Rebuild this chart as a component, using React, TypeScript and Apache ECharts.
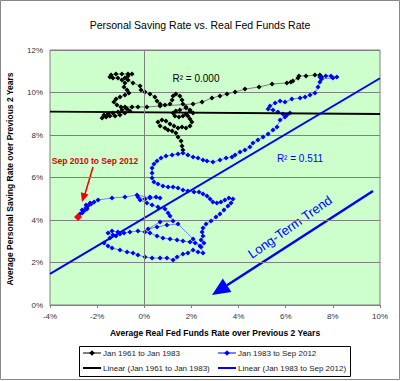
import React, { useEffect, useRef } from "react";
import * as echarts from "echarts";

const FONT = "'Liberation Sans', Arial, Helvetica, sans-serif";

const chartTitle = "Personal Saving Rate vs. Real Fed Funds Rate";
const xTitle = "Average Real Fed Funds Rate over Previous 2 Years";
const yTitle = "Average Personal Saving Rate over Previous 2 Years";
const names = [
  "Jan 1961 to Jan 1983",
  "Jan 1983 to Sep 2012",
  "Linear (Jan 1961 to Jan 1983)",
  "Linear (Jan 1983 to Sep 2012)",
];

// [real fed funds %, personal saving %]
const series1961: number[][] = [
  [1.64, 7.29], [1.6, 7.48], [1.56, 7.72], [1.43, 7.91], [1.34, 8.09], [1.18, 8.19], [1.01, 8.24],
  [0.88, 8.33], [0.67, 8.42], [0.58, 8.61], [0.75, 8.71], [0.92, 8.66], [1.09, 8.52], [1.26, 8.42],
  [1.43, 8.33], [1.6, 8.38], [1.77, 8.33], [1.94, 8.42], [2.02, 8.61], [1.94, 8.75], [1.85, 8.89],
  [1.77, 8.99], [1.64, 8.89], [1.47, 8.85], [1.3, 8.89], [1.22, 9.04], [1.34, 9.13], [1.51, 9.18],
  [1.77, 9.27], [1.94, 9.13], [2.07, 9.04], [1.94, 9.18], [1.77, 9.32], [1.64, 9.46], [1.6, 9.65],
  [1.51, 9.84], [1.34, 9.93], [1.22, 9.84], [1.18, 9.65], [1.09, 9.46], [0.88, 9.41], [0.67, 9.46],
  [0.54, 9.6], [0.45, 9.79], [0.24, 9.93], [0.03, 10.02], [-0.14, 10.12], [-0.18, 10.31],
  [-0.48, 10.45], [-0.69, 10.59], [-0.82, 10.68], [-0.69, 10.78], [-0.52, 10.87], [-0.69, 10.87],
  [-0.95, 10.87], [-1.2, 10.87], [-1.41, 10.82], [-1.46, 10.73], [-1.33, 10.68], [-1.12, 10.68],
  [-0.95, 10.59], [-0.82, 10.45], [-0.86, 10.26], [-0.73, 10.12], [-0.65, 9.98], [-0.82, 9.88],
  [-1.03, 9.79], [-1.2, 9.69], [-1.29, 9.55], [-1.16, 9.41], [-0.99, 9.32], [-0.78, 9.27],
  [-0.95, 9.18], [-1.12, 9.08], [-1.33, 9.04], [-1.54, 8.99], [-1.71, 8.94], [-1.79, 8.8],
  [-1.62, 8.85], [-1.46, 8.89], [-1.24, 8.89], [-1.03, 8.94], [-0.82, 9.04], [-0.61, 9.13],
  [-0.73, 9.22], [-0.82, 9.32], [-0.52, 9.32], [-0.27, 9.32], [0.11, 9.32], [0.67, 9.36],
  [2.07, 9.46], [2.45, 9.55], [2.87, 9.74], [3.21, 9.84], [3.51, 9.93], [3.85, 10.02],
  [4.27, 10.16], [4.87, 10.26], [5.42, 10.4], [6.05, 10.45], [6.22, 10.49], [6.3, 10.54],
  [6.52, 10.68], [6.56, 10.78], [6.86, 10.78], [7.24, 10.82], [7.45, 10.82], [7.52, 10.73],
];

const series1983: number[][] = [
  [7.45, 10.73], [7.7, 10.78], [7.92, 10.78], [8.17, 10.73], [8.0, 10.68], [7.52, 10.64],
  [7.45, 10.49], [7.37, 10.26], [7.24, 9.98], [7.03, 9.88], [6.82, 9.79], [6.61, 9.74],
  [6.26, 9.69], [5.97, 9.55], [5.76, 9.6], [5.55, 9.51], [5.33, 9.36], [5.25, 9.22], [5.46, 9.18],
  [5.67, 9.08], [5.88, 8.99], [6.05, 8.94], [6.18, 9.04], [5.97, 8.85], [5.76, 8.71], [5.63, 8.38],
  [5.46, 8.24], [5.25, 8.05], [5.04, 7.91], [4.82, 7.76], [4.61, 7.62], [4.48, 7.44], [4.27, 7.29],
  [4.06, 7.2], [3.85, 7.06], [3.72, 6.96], [3.47, 6.92], [3.21, 6.82], [2.91, 6.73], [2.66, 6.78],
  [2.49, 6.82], [2.28, 6.92], [2.07, 6.96], [1.85, 7.06], [1.64, 7.15], [1.43, 7.11], [1.18, 7.06],
  [0.92, 7.01], [0.71, 6.92], [0.54, 6.78], [0.41, 6.64], [0.33, 6.45], [0.33, 6.21], [0.33, 5.98],
  [0.41, 5.79], [0.58, 5.69], [0.79, 5.6], [1.01, 5.55], [1.22, 5.55], [1.43, 5.51], [1.64, 5.41],
  [1.85, 5.36], [2.11, 5.32], [2.32, 5.32], [2.49, 5.22], [2.66, 5.13], [2.79, 4.99], [2.91, 4.85],
  [3.08, 4.8], [3.25, 4.85], [3.42, 4.94], [3.59, 5.04], [3.76, 4.99], [3.68, 4.8], [3.55, 4.66],
  [3.38, 4.47], [3.21, 4.28], [3.04, 4.14], [2.83, 3.95], [2.62, 3.81], [2.49, 3.62], [2.45, 3.44],
  [2.49, 3.25], [2.41, 3.06], [2.53, 2.92], [2.36, 2.78], [2.16, 2.92], [1.94, 2.96], [1.64, 3.01],
  [1.39, 3.06], [1.09, 3.11], [0.79, 3.15], [0.54, 3.25], [0.24, 3.39], [0.03, 3.44], [-0.27, 3.48],
  [-0.61, 3.44], [-0.86, 3.39], [-1.12, 3.44], [-1.37, 3.48], [-1.54, 3.39], [-1.33, 3.29],
  [-1.03, 3.34], [-1.2, 3.25], [-1.46, 3.15], [-1.71, 2.92], [-1.54, 2.78], [-1.37, 2.68],
  [-1.03, 2.59], [-0.73, 2.49], [-0.48, 2.45], [-0.27, 2.35], [0.03, 2.26], [0.33, 2.21],
  [0.67, 2.21], [0.96, 2.21], [1.22, 2.12], [1.39, 2.26], [1.64, 2.4], [1.85, 2.45], [2.07, 2.59],
  [2.28, 2.49], [2.49, 2.45], [2.41, 2.73], [2.07, 3.11], [1.43, 3.81], [0.96, 3.76], [0.54, 3.67],
  [0.16, 3.58], [0.67, 3.91], [1.22, 3.95], [1.09, 4.19], [1.01, 4.33], [0.88, 4.52], [0.58, 4.61],
  [0.33, 4.71], [0.11, 4.8], [-0.18, 4.94], [-0.27, 5.08], [0.03, 4.99], [0.24, 5.08], [0.5, 5.08],
  [0.67, 5.04], [0.24, 5.04], [-0.31, 5.18], [-0.82, 5.08], [-1.37, 5.04], [-1.96, 4.94],
  [-2.13, 4.85], [-2.26, 4.75], [-2.39, 4.66], [-2.43, 4.52], [-2.56, 4.42], [-2.64, 4.33],
  [-2.47, 4.56], [-2.3, 4.8], [-2.47, 4.71], [-2.64, 4.47], [-2.73, 4.28],
];

const lastPoint: number[] = [-2.81, 4.14];

const trend1961: number[][] = [[-4, 9.1], [10, 8.99]];
const trend1983: number[][] = [[-4, 1.46], [10, 10.67]];

const r2Black = "R² = 0.000";
const r2Blue = "R² = 0.511";
const noteRed = "Sep 2010 to Sep 2012";
const noteTrend = "Long-Term Trend";

export default function App() {
  const ref = useRef<HTMLDivElement>(null);
  useEffect(() => {
    const chart = echarts.init(ref.current!, null, { renderer: "svg" });
    const blue = "#0000ff";
    const legendText = { fontFamily: FONT, fontSize: 8, color: "#222", padding: [0, 0, 0, -3] };
    const option: any = {
      animation: false,
      backgroundColor: "#ffffff",
      textStyle: { fontFamily: FONT },
      title: {
        text: chartTitle,
        left: "center",
        top: 14,
        textStyle: { fontFamily: FONT, fontSize: 10.5, fontWeight: "normal", color: "#000" },
      },
      grid: {
        left: 50,
        right: 20,
        top: 50,
        bottom: 76,
        show: true,
        backgroundColor: "#ccffcc",
        borderColor: "#808080",
        borderWidth: 1,
      },
      xAxis: {
        type: "value",
        min: -4,
        max: 10,
        interval: 2,
        name: xTitle,
        nameLocation: "middle",
        nameGap: 23,
        nameTextStyle: { fontFamily: FONT, fontSize: 8.5, fontWeight: "bold", color: "#000" },
        axisLine: { show: true, onZero: false, lineStyle: { color: "#808080" } },
        axisTick: { show: true, length: 3, lineStyle: { color: "#808080" } },
        axisLabel: { formatter: (v: number) => `${v}%`, fontSize: 8, color: "#333", margin: 7, fontFamily: FONT },
        splitLine: { show: false },
      },
      yAxis: {
        type: "value",
        min: 0,
        max: 12,
        interval: 2,
        axisLine: { show: false, onZero: false },
        axisTick: { show: false },
        axisLabel: { formatter: (v: number) => `${v}%`, fontSize: 8, color: "#333", margin: 7, fontFamily: FONT },
        splitLine: { show: true, lineStyle: { color: "#808080", width: 1 } },
      },
      legend: [
        {
          data: [names[0], { name: names[2], itemStyle: { opacity: 0 } }],
          orient: "vertical",
          left: 82,
          top: 349,
          itemWidth: 18,
          itemHeight: 7,
          itemGap: 7,
          padding: 0,
          textStyle: legendText,
        },
        {
          data: [names[1], { name: names[3], itemStyle: { opacity: 0 } }],
          orient: "vertical",
          left: 217,
          top: 349,
          itemWidth: 18,
          itemHeight: 7,
          itemGap: 7,
          padding: 0,
          textStyle: legendText,
        },
      ],
      series: [
        {
          name: names[0],
          type: "line",
          data: series1961,
          symbol: "diamond",
          symbolSize: 5,
          showAllSymbol: true,
          itemStyle: { color: "#000" },
          lineStyle: { color: "#7f7f7f", width: 1 },
          z: 2,
          markLine: {
            silent: true,
            symbol: "none",
            label: { show: false },
            lineStyle: { color: "#808080", width: 1, type: "solid" },
            data: [{ xAxis: 0 }],
          },
        },
        {
          name: names[1],
          type: "line",
          data: [
            ...series1983,
            { value: lastPoint, itemStyle: { color: "#ff0000" }, symbolSize: 8 },
          ],
          symbol: "diamond",
          symbolSize: 5,
          showAllSymbol: true,
          itemStyle: { color: blue },
          lineStyle: { color: "#7f7fff", width: 1 },
          z: 2,
        },
        {
          name: names[2],
          type: "line",
          data: trend1961,
          symbol: "none",
          lineStyle: { color: "#000", width: 2 },
          itemStyle: { color: "#000" },
          z: 3,
        },
        {
          name: names[3],
          type: "line",
          data: trend1983,
          symbol: "none",
          lineStyle: { color: blue, width: 2 },
          itemStyle: { color: blue },
          z: 3,
        },
      ],
      graphic: [
        {
          type: "rect",
          shape: { x: 0.5, y: 0.5, width: 399, height: 379 },
          style: { fill: "none", stroke: "#888", lineWidth: 1 },
          silent: true,
        },
        {
          type: "rect",
          shape: { x: 79.5, y: 346.5, width: 271, height: 30 },
          style: { fill: "none", stroke: "#000", lineWidth: 1 },
          silent: true,
        },
        {
          type: "text",
          x: 10,
          y: 179,
          rotation: Math.PI / 2,
          style: { text: yTitle, fill: "#000", font: `bold 8.5px ${FONT}`, align: "center", verticalAlign: "middle" },
        },
        {
          type: "text",
          x: 196,
          y: 78,
          style: { text: r2Black, fill: "#000", font: `10px ${FONT}`, align: "center", verticalAlign: "middle" },
        },
        {
          type: "text",
          x: 300,
          y: 158,
          style: { text: r2Blue, fill: blue, font: `10px ${FONT}`, align: "center", verticalAlign: "middle" },
        },
        {
          type: "text",
          x: 95,
          y: 161,
          style: { text: noteRed, fill: "#dd0000", font: `bold 8.5px ${FONT}`, align: "center", verticalAlign: "middle" },
        },
        {
          type: "line",
          shape: { x1: 93, y1: 167, x2: 85, y2: 194 },
          style: { stroke: "#ee0000", lineWidth: 1.5 },
        },
        {
          type: "polygon",
          shape: { points: [[82, 202], [88.5, 194.6], [80.9, 192.2]] },
          style: { fill: "#ee0000" },
        },
        {
          type: "text",
          x: 290,
          y: 227,
          rotation: (35 * Math.PI) / 180,
          style: { text: noteTrend, fill: blue, font: `13px ${FONT}`, align: "center", verticalAlign: "middle" },
        },
        {
          type: "line",
          shape: { x1: 373, y1: 191, x2: 227, y2: 285.2 },
          style: { stroke: blue, lineWidth: 2.5 },
        },
        {
          type: "polygon",
          shape: { points: [[212, 295], [231.4, 291.9], [222.8, 278.5]] },
          style: { fill: blue },
        },
      ],
    };
    chart.setOption(option);
    return () => chart.dispose();
  }, []);
  return (
    <div
      ref={ref}
      style={{ position: "fixed", left: 0, top: 0, width: 400, height: 381, background: "#fff" }}
    />
  );
}
